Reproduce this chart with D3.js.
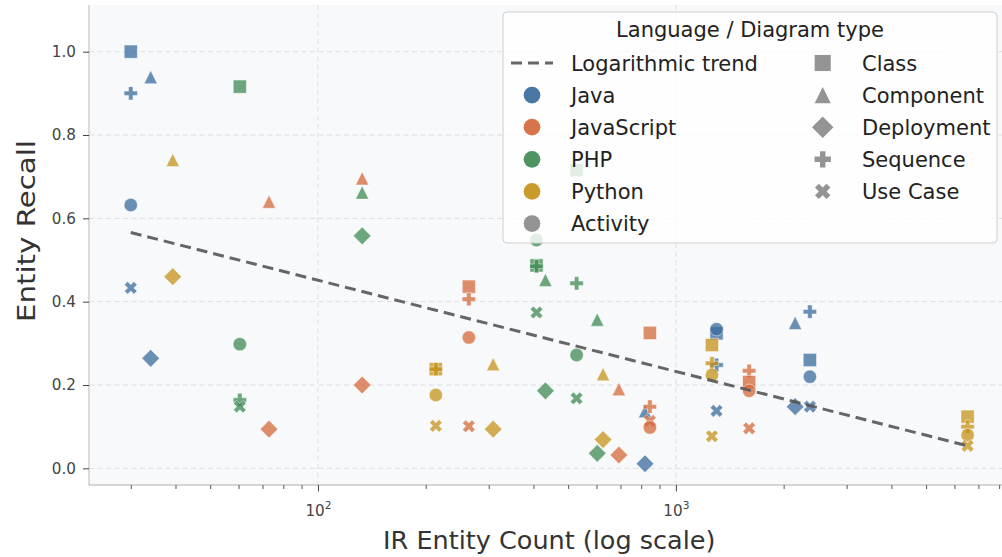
<!DOCTYPE html>
<html><head><meta charset="utf-8">
<script src="https://cdn.jsdelivr.net/npm/d3@7"></script>
<style>html,body{margin:0;padding:0;background:#fff;}svg{display:block;font-family:"DejaVu Sans",sans-serif;}</style>
</head><body><svg id="chart" width="1002" height="557"></svg>
<script>
// ---- data ----
const languages = ["Java", "JavaScript", "PHP", "Python"];
const languageColors = ["#3a6b9c", "#d4683a", "#3f8a52", "#c4921a"];
const diagramTypes = ["Class", "Component", "Deployment", "Sequence", "Use Case"];
// [IR entity count, diagram type, entity recall]
const javaPoints = [
  [30, "Class", 1.0], [34.1, "Component", 0.939], [30, "Sequence", 0.90], [30, "Activity", 0.632],
  [30, "Use Case", 0.433], [34.1, "Deployment", 0.264],
  [820, "Component", 0.137], [820, "Deployment", 0.011],
  [1299, "Class", 0.324], [1299, "Activity", 0.334], [1299, "Sequence", 0.248], [1299, "Use Case", 0.138],
  [2154, "Component", 0.349], [2154, "Deployment", 0.148],
  [2368, "Sequence", 0.376], [2368, "Class", 0.26], [2368, "Activity", 0.22], [2368, "Use Case", 0.148]
];
const javascriptPoints = [
  [73, "Component", 0.64], [73, "Deployment", 0.094],
  [132.9, "Component", 0.696], [132.9, "Deployment", 0.2],
  [264, "Class", 0.436], [264, "Sequence", 0.406], [264, "Activity", 0.314], [264, "Use Case", 0.101],
  [693, "Component", 0.19], [693, "Deployment", 0.032],
  [846, "Class", 0.325], [846, "Sequence", 0.148], [846, "Use Case", 0.114], [846, "Activity", 0.098],
  [1602, "Sequence", 0.234], [1602, "Class", 0.207], [1602, "Activity", 0.186], [1602, "Use Case", 0.096]
];
const phpPoints = [
  [60.5, "Class", 0.916], [60.5, "Activity", 0.298], [60.5, "Sequence", 0.164], [60.5, "Use Case", 0.148],
  [132.9, "Component", 0.662], [132.9, "Deployment", 0.558],
  [408, "Activity", 0.548], [408, "Class", 0.487], [408, "Sequence", 0.485], [408, "Use Case", 0.374],
  [432, "Component", 0.452], [432, "Deployment", 0.186],
  [528, "Class", 0.716], [528, "Sequence", 0.444], [528, "Activity", 0.272], [528, "Use Case", 0.168],
  [603, "Component", 0.357], [603, "Deployment", 0.036]
];
const pythonPoints = [
  [39.3, "Component", 0.74], [39.3, "Deployment", 0.46],
  [213.5, "Class", 0.238], [213.5, "Sequence", 0.238], [213.5, "Activity", 0.176], [213.5, "Use Case", 0.102],
  [308.7, "Component", 0.25], [308.7, "Deployment", 0.094],
  [626, "Component", 0.226], [626, "Deployment", 0.069],
  [1261, "Class", 0.296], [1261, "Sequence", 0.252], [1261, "Activity", 0.224], [1261, "Use Case", 0.077],
  [6531, "Class", 0.124], [6531, "Sequence", 0.10], [6531, "Activity", 0.08], [6531, "Use Case", 0.054]
];
const seriesByLanguage = [javaPoints, javascriptPoints, phpPoints, pythonPoints];
// logarithmic trend line endpoints
const trendX = [30, 6531];
const trendY = [0.566, 0.054];
const yTicks = [0.0, 0.2, 0.4, 0.6, 0.8, 1.0];
const xMajorTicks = [100, 1000];
const xMinorTicks = [30, 40, 50, 60, 70, 80, 90, 200, 300, 400, 500, 600, 700, 800, 900, 2000, 3000, 4000, 5000, 6000, 7000, 8000];
const xDomain = [22.93, 8551];
const yDomain = [-0.04, 1.112];

// ---- layout ----
const svg = d3.select("#chart");
const L = 89, R = 1009.5, T = 5, B = 485;
const x = d3.scaleLog().domain(xDomain).range([L, R]);
const y = d3.scaleLinear().domain(yDomain).range([B, T]);

svg.append("rect").attr("width", 1002).attr("height", 557).attr("fill", "#fff");
svg.append("rect").attr("x", L).attr("y", T).attr("width", R - L).attr("height", B - T).attr("fill", "#f8f9fb");
svg.append("defs").append("clipPath").attr("id", "clip").append("rect")
  .attr("x", L).attr("y", T).attr("width", R - L).attr("height", B - T);

// grid
const grid = svg.append("g").attr("stroke", "#dedede").attr("stroke-width", 1).attr("stroke-dasharray", "5,3.5");
grid.selectAll("line.h").data(yTicks).join("line").attr("class", "h")
  .attr("x1", L).attr("x2", R).attr("y1", d => y(d)).attr("y2", d => y(d));
grid.selectAll("line.v").data(xMajorTicks).join("line").attr("class", "v")
  .attr("y1", T).attr("y2", B).attr("x1", d => x(d)).attr("x2", d => x(d));

// spines
svg.append("line").attr("x1", L).attr("x2", L).attr("y1", T).attr("y2", B).attr("stroke", "#c8c8c8").attr("stroke-width", 1.3);
svg.append("line").attr("x1", L).attr("x2", R).attr("y1", B).attr("y2", B).attr("stroke", "#c8c8c8").attr("stroke-width", 1.3);

// y axis
const yAxis = d3.axisLeft(y).tickValues(yTicks).tickFormat(d3.format(".1f")).tickSize(6).tickPadding(7);
const gy = svg.append("g").attr("transform", `translate(${L},0)`).call(yAxis);
gy.select(".domain").remove();
gy.selectAll(".tick line").attr("stroke", "#444").attr("stroke-width", 1);
gy.selectAll(".tick text").attr("fill", "#444").attr("font-size", 15.2).attr("font-family", "DejaVu Sans");

// x axis minor
const xMinor = d3.axisBottom(x).tickValues(xMinorTicks).tickFormat("").tickSize(4);
const gxm = svg.append("g").attr("transform", `translate(0,${B})`).call(xMinor);
gxm.select(".domain").remove();
gxm.selectAll(".tick line").attr("stroke", "#444").attr("stroke-width", 0.9);
// x axis major
const xMajor = d3.axisBottom(x).tickValues(xMajorTicks).tickFormat("").tickSize(6.5);
const gx = svg.append("g").attr("transform", `translate(0,${B})`).call(xMajor);
gx.select(".domain").remove();
gx.selectAll(".tick line").attr("stroke", "#444").attr("stroke-width", 1);
gx.selectAll(".tick text").remove();
gx.selectAll(".tick").append("text")
  .attr("y", 31).attr("text-anchor", "middle").attr("fill", "#444")
  .attr("font-size", 15.2).attr("font-family", "DejaVu Sans")
  .each(function (d) {
    const t = d3.select(this);
    t.append("tspan").text("10");
    t.append("tspan").attr("font-size", 10.6).attr("dy", -7).text(String(Math.round(Math.log10(d))));
  });

// axis labels
svg.append("text").attr("x", (L + R) / 2).attr("y", 549).attr("text-anchor", "middle")
  .attr("font-size", 25.5).attr("fill", "#333").text("IR Entity Count (log scale)");
svg.append("text").attr("transform", `translate(35,231) rotate(-90)`).attr("text-anchor", "middle")
  .attr("font-size", 25.5).attr("fill", "#333")
  .attr("textLength", 182).attr("lengthAdjust", "spacingAndGlyphs").text("Entity Recall");

// marker shapes
function shapePath(type, k) {
  k = k || 1;
  if (type === "Activity") { const r = 6.7 * k; return `M${r},0A${r},${r} 0 1,1 ${-r},0A${r},${r} 0 1,1 ${r},0Z`; }
  if (type === "Class") { const h = 6.6 * k; return `M${-h},${-h}H${h}V${h}H${-h}Z`; }
  if (type === "Component") { const h = 6.6 * k; return `M0,${-h}L${h},${h}L${-h},${h}Z`; }
  if (type === "Deployment") { const d = 8.8 * k; return `M0,${-d}L${d},0L0,${d}L${-d},0Z`; }
  const h = 6.7 * k, t = h / 3;
  let pts = [[t, h], [-t, h], [-t, t], [-h, t], [-h, -t], [-t, -t], [-t, -h], [t, -h], [t, -t], [h, -t], [h, t], [t, t]];
  if (type === "Use Case") {
    const c = Math.SQRT1_2;
    pts = pts.map(([a, b]) => [c * (a - b), c * (a + b)]);
  }
  return "M" + pts.map(p => p[0].toFixed(2) + "," + p[1].toFixed(2)).join("L") + "Z";
}

// points
const plot = svg.append("g").attr("clip-path", "url(#clip)");
seriesByLanguage.forEach((pts, i) => {
  plot.append("g").selectAll("path").data(pts).join("path")
    .attr("transform", d => `translate(${x(d[0])},${y(d[2])})`)
    .attr("d", d => shapePath(d[1]))
    .attr("fill", languageColors[i]).attr("fill-opacity", 0.75)
    .attr("stroke", "#fff").attr("stroke-width", 0.6).attr("stroke-opacity", 0.8);
});

// trend line
plot.append("path")
  .attr("d", d3.line().x(d => x(d[0])).y(d => y(d[1]))(trendX.map((v, i) => [v, trendY[i]])))
  .attr("fill", "none").attr("stroke", "#555").attr("stroke-opacity", 0.9)
  .attr("stroke-width", 3).attr("stroke-dasharray", "11,6");

// legend
const lg = svg.append("g");
lg.append("rect").attr("x", 503).attr("y", 12).attr("width", 494).attr("height", 231).attr("rx", 4)
  .attr("fill", "#fff").attr("fill-opacity", 0.8).attr("stroke", "#cfcfcf").attr("stroke-width", 1);
lg.append("text").attr("x", 750).attr("y", 37).attr("text-anchor", "middle").attr("font-size", 21).attr("fill", "#222")
  .text("Language / Diagram type");
const rowY = i => 63 + i * 32.1;
const lfs = 21;
// col 1
lg.append("line").attr("x1", 511).attr("x2", 553).attr("y1", rowY(0)).attr("y2", rowY(0))
  .attr("stroke", "#555").attr("stroke-opacity", 0.9).attr("stroke-width", 3).attr("stroke-dasharray", "11,6");
lg.append("text").attr("x", 571).attr("y", rowY(0) + 7.6).attr("font-size", lfs).attr("fill", "#222").text("Logarithmic trend");
languages.forEach((name, i) => {
  lg.append("path").attr("transform", `translate(532,${rowY(i + 1)})`).attr("d", shapePath("Activity", 1.25))
    .attr("fill", languageColors[i]).attr("fill-opacity", 0.92);
  lg.append("text").attr("x", 571).attr("y", rowY(i + 1) + 7.6).attr("font-size", lfs).attr("fill", "#222").text(name);
});
lg.append("path").attr("transform", `translate(532,${rowY(5)})`).attr("d", shapePath("Activity", 1.25))
  .attr("fill", "#888").attr("fill-opacity", 0.9);
lg.append("text").attr("x", 571).attr("y", rowY(5) + 7.6).attr("font-size", lfs).attr("fill", "#222").text("Activity");
// col 2
diagramTypes.forEach((name, i) => {
  lg.append("path").attr("transform", `translate(822.7,${rowY(i)})`).attr("d", shapePath(name, 1.22))
    .attr("fill", "#888").attr("fill-opacity", 0.9);
  lg.append("text").attr("x", 862).attr("y", rowY(i) + 7.6).attr("font-size", lfs).attr("fill", "#222").text(name);
});
</script></body></html>
